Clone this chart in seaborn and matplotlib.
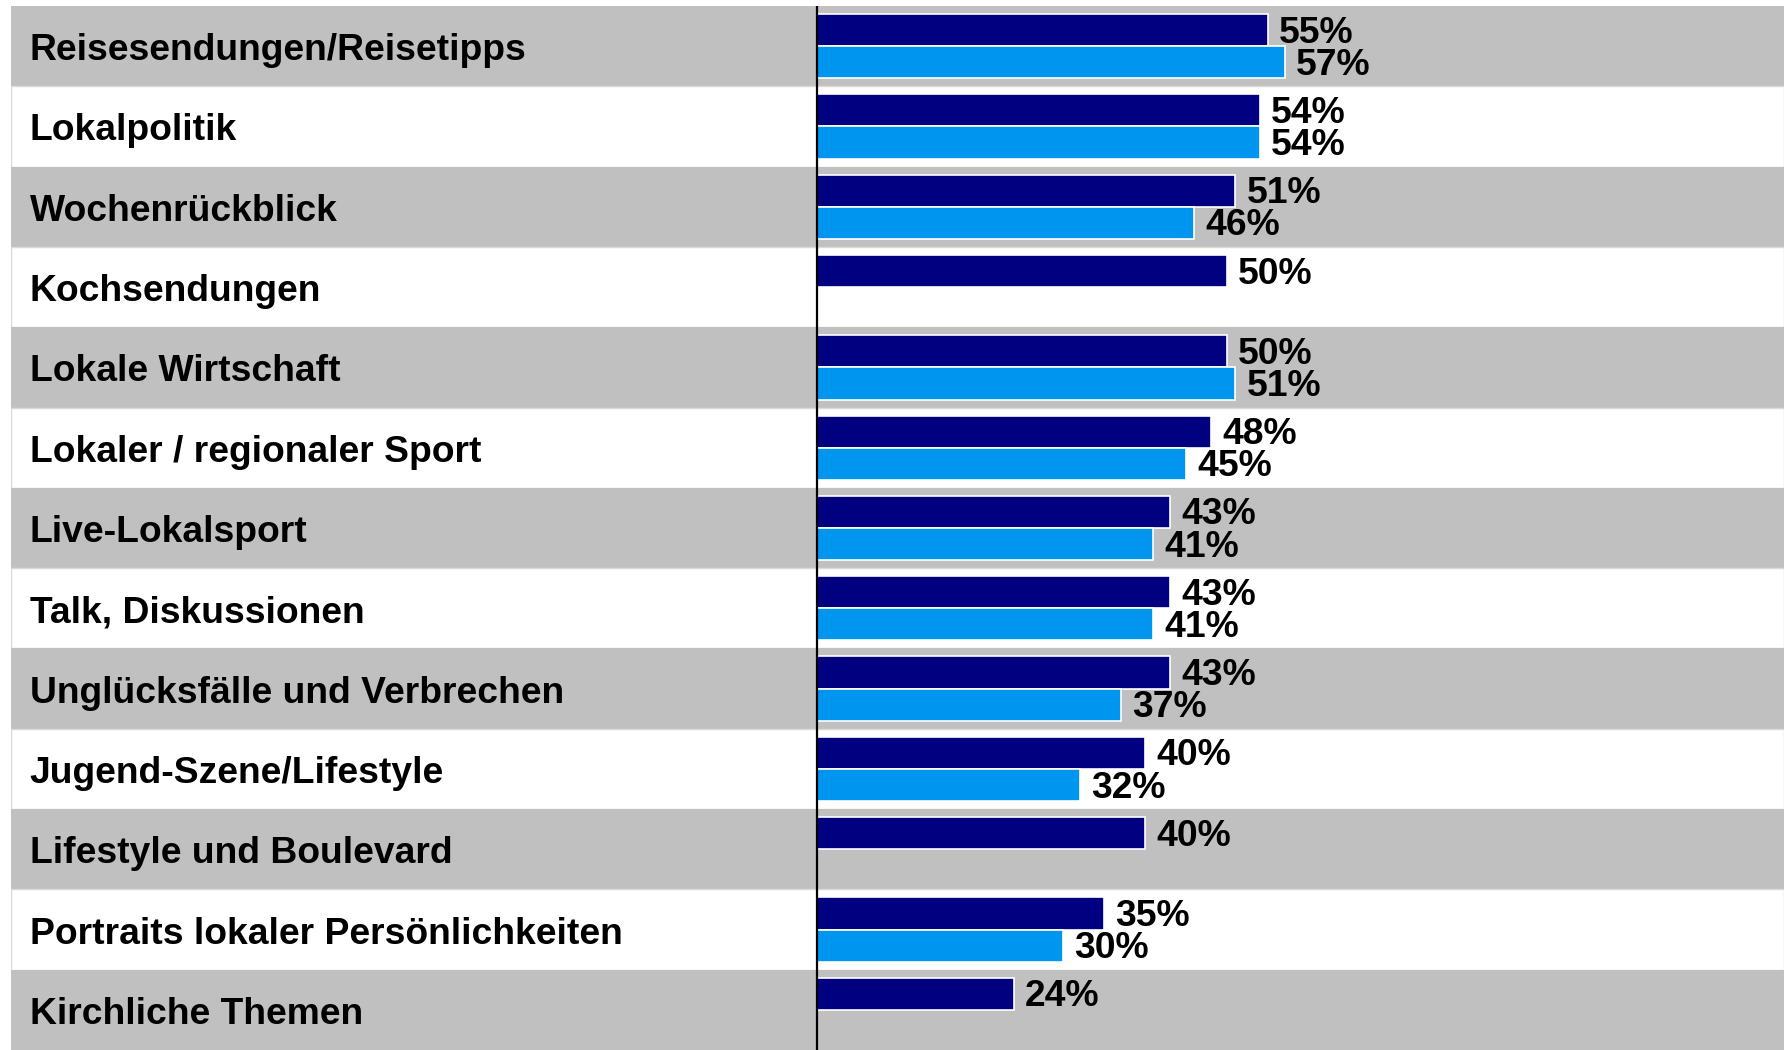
import matplotlib
matplotlib.use("Agg")
import matplotlib.pyplot as plt
import matplotlib.transforms as mtransforms
import numpy as np
import pandas as pd
import seaborn as sns

# Topics and shares (%) for the two compared groups
categories = [
    "Reisesendungen/Reisetipps",
    "Lokalpolitik",
    "Wochenrückblick",
    "Kochsendungen",
    "Lokale Wirtschaft",
    "Lokaler / regionaler Sport",
    "Live-Lokalsport",
    "Talk, Diskussionen",
    "Unglücksfälle und Verbrechen",
    "Jugend-Szene/Lifestyle",
    "Lifestyle und Boulevard",
    "Portraits lokaler Persönlichkeiten",
    "Kirchliche Themen",
]
series_a = [55, 54, 51, 50, 50, 48, 43, 43, 43, 40, 40, 35, 24]
series_b = [57, 54, 46, np.nan, 51, 45, 41, 41, 37, 32, np.nan, 30, np.nan]
series_names = ["A", "B"]

colors = ["#000080", "#0096F0"]
band_grey = "#C0C0C0"

df = pd.DataFrame({
    "Thema": categories * 2,
    "Anteil": series_a + series_b,
    "Gruppe": [series_names[0]] * len(categories) + [series_names[1]] * len(categories),
})

sns.set_theme(style="white")
plt.rcParams["font.family"] = ["Liberation Sans", "DejaVu Sans"]

fig = plt.figure(figsize=(17.84, 10.5), dpi=100)
W, H = 1784, 1050
ax = fig.add_axes([11 / W, 0, 1 - 11 / W, (H - 6) / H])

n = len(categories)
x_left, x_right = -98.3, 117.9
fs = 26.8

# Alternating row bands
for i in range(n):
    if i % 2 == 0:
        ax.axhspan(i - 0.5, i + 0.5, color=band_grey, lw=0, zorder=0)
    else:
        ax.axhspan(i - 0.5, i + 0.5, facecolor="white", edgecolor="#DADADA", lw=1.0, zorder=0)

sns.barplot(
    data=df, y="Thema", x="Anteil", hue="Gruppe", order=categories,
    hue_order=series_names, palette=colors, saturation=1, orient="h", width=0.8,
    edgecolor="white", linewidth=1.2, legend=False, ax=ax, zorder=2,
)

for cont in ax.containers:
    labels = ax.bar_label(cont, fmt="%d%%", padding=8, fontsize=fs,
                          fontweight="bold", color="black")
    for t in labels:
        t.xyann = (8, -2.2)

# Category labels inside the left part of each band
trans = mtransforms.blended_transform_factory(ax.transAxes, ax.transData)
trans = mtransforms.offset_copy(trans, fig=fig, x=0, y=-4.5, units="dots")
for i, label in enumerate(categories):
    ax.text(0.0105, i, label, transform=trans, ha="left", va="center",
            fontsize=fs, fontweight="bold", color="black", zorder=3)

ax.axvline(0, color="black", lw=1.6, zorder=4)

ax.set_xlim(x_left, x_right)
ax.set_ylim(n - 0.5, -0.5)
ax.set_xlabel("")
ax.set_ylabel("")
ax.set_xticks([])
ax.set_yticks([])
for s in ax.spines.values():
    s.set_visible(False)

fig.savefig("out.png", dpi=100)
